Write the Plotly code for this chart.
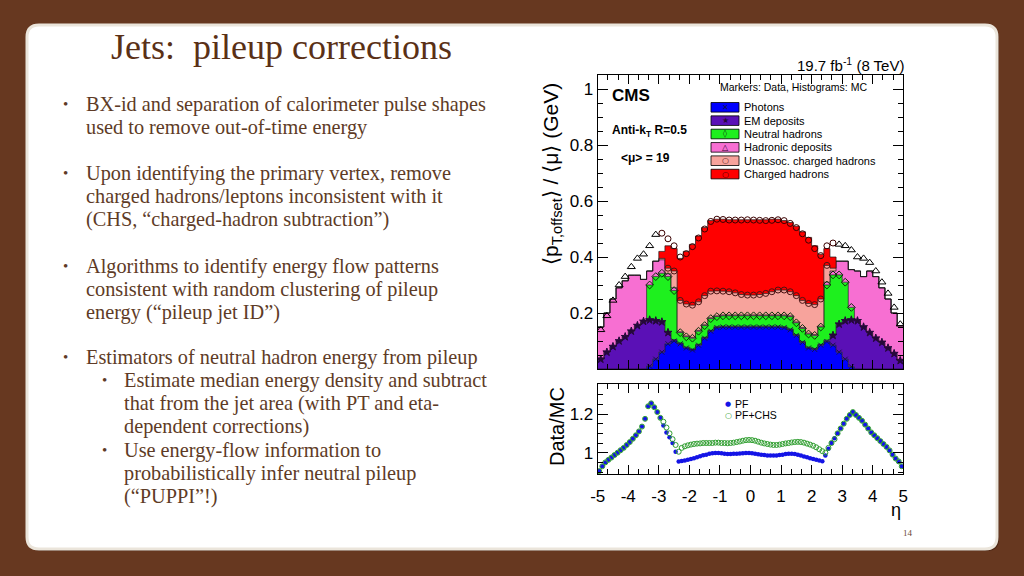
import numpy as np
import plotly.graph_objects as go

W, H = 1024, 576

# ---------------- data ----------------
eta_edges = np.linspace(-5.0, 5.0, 51)
eta_centers = 0.5 * (eta_edges[:-1] + eta_edges[1:])

photons = [0, 0, 0, 0, 0, 0, 0, 0,
           0.01, 0.035, 0.06, 0.09, 0.10, 0.09, 0.075, 0.068, 0.085, 0.11, 0.135, 0.148,
           0.15, 0.15, 0.15, 0.15, 0.15, 0.15, 0.15, 0.15, 0.15, 0.15,
           0.148, 0.14, 0.12, 0.095, 0.075, 0.07, 0.085, 0.098, 0.085, 0.06, 0.035, 0.008,
           0, 0, 0, 0, 0, 0, 0, 0]
em_deposits = [0.035, 0.06, 0.08, 0.10, 0.115, 0.135, 0.155, 0.17,
               0.165, 0.137, 0.108, 0.04, 0.005,
               0.003, 0.003, 0.003, 0.003, 0.003, 0.003, 0.003, 0.003, 0.003, 0.003, 0.003, 0.003,
               0.003, 0.003, 0.003, 0.003, 0.003, 0.003, 0.003, 0.003, 0.003, 0.003, 0.003, 0.003,
               0.005, 0.035, 0.10, 0.137, 0.167, 0.172, 0.15, 0.13, 0.11, 0.095, 0.075, 0.055, 0.03]
neutral_hadrons = [0, 0, 0, 0, 0, 0, 0, 0,
                   0.125, 0.158, 0.174, 0.20, 0.175, 0.037, 0.037, 0.039, 0.047, 0.042, 0.042, 0.036,
                   0.037, 0.037, 0.037, 0.037, 0.037, 0.037, 0.037, 0.037, 0.037, 0.037,
                   0.039, 0.044, 0.042, 0.047, 0.047, 0.047, 0.062, 0.197, 0.216, 0.176, 0.138, 0.045,
                   0, 0, 0, 0, 0, 0, 0, 0]
hadronic_deposits = [0.115, 0.14, 0.17, 0.19, 0.20, 0.20, 0.18, 0.15, 0.05, 0.055, 0.048, 0.01, 0.01,
                     0.003, 0.003, 0.003, 0.003, 0.003, 0.003, 0.003, 0.003, 0.003, 0.003, 0.003, 0.003,
                     0.003, 0.003, 0.003, 0.003, 0.003, 0.003, 0.003, 0.003, 0.003, 0.003, 0.003, 0.003,
                     0.01, 0.014, 0.049, 0.075, 0.135, 0.178, 0.18, 0.22, 0.22, 0.195, 0.175, 0.145, 0.125]
unassoc_charged = [0, 0, 0, 0, 0, 0, 0, 0, 0, 0,
                   0.005, 0.02, 0.06, 0.112, 0.114, 0.115, 0.102, 0.104, 0.095, 0.089,
                   0.085, 0.083, 0.079, 0.073, 0.071, 0.071, 0.073, 0.077, 0.083, 0.089,
                   0.089, 0.086, 0.094, 0.097, 0.106, 0.107, 0.097, 0.06, 0.01,
                   0, 0, 0, 0, 0, 0, 0, 0, 0, 0, 0]
charged_hadrons = [0, 0, 0, 0, 0, 0, 0, 0, 0, 0,
                   0.025, 0.08, 0.08, 0.15, 0.188, 0.217, 0.235, 0.243, 0.252, 0.256,
                   0.257, 0.257, 0.261, 0.267, 0.269, 0.269, 0.267, 0.263, 0.259, 0.253,
                   0.248, 0.247, 0.248, 0.245, 0.236, 0.21, 0.16, 0.06, 0.04,
                   0, 0, 0, 0, 0, 0, 0, 0, 0, 0, 0]
data_total = [0.14, 0.19, 0.245, 0.30, 0.33, 0.365, 0.395, 0.41, 0.44, 0.48,
              0.485, 0.465, 0.44, 0.40, 0.412, 0.437, 0.468, 0.50, 0.527, 0.535,
              0.534, 0.532, 0.532, 0.532, 0.533, 0.532, 0.531, 0.53, 0.531, 0.533,
              0.53, 0.52, 0.505, 0.483, 0.46, 0.43, 0.405, 0.44, 0.45, 0.445,
              0.44, 0.425, 0.40, 0.395, 0.38, 0.35, 0.31, 0.27, 0.22, 0.16]

ratio_eta = np.linspace(-4.95, 4.95, 100)
ratio_pf = [0.905, 0.93, 0.95, 0.963, 0.975, 0.988, 1.0, 1.013, 1.025, 1.04,
            1.055, 1.072, 1.09, 1.11, 1.135, 1.175, 1.24, 1.255, 1.235, 1.21,
            1.18, 1.14, 1.105, 1.08, 1.05, 1.005, 0.955, 0.957, 0.96, 0.963,
            0.967, 0.972, 0.977, 0.982, 0.987, 0.99, 0.994, 0.997, 0.999, 0.999,
            0.997, 0.995, 0.993, 0.993, 0.994, 0.995, 0.996, 0.997, 0.998, 0.998,
            0.997, 0.995, 0.992, 0.99, 0.988, 0.986, 0.985, 0.985, 0.986, 0.988,
            0.99, 0.993, 0.995, 0.995, 0.993, 0.99, 0.985, 0.98, 0.976, 0.972,
            0.968, 0.964, 0.96, 0.956, 0.985, 1.02, 1.05, 1.075, 1.10, 1.125,
            1.15, 1.175, 1.195, 1.21, 1.195, 1.18, 1.165, 1.145, 1.125, 1.105,
            1.09, 1.075, 1.06, 1.045, 1.03, 1.012, 0.99, 0.97, 0.955, 0.93]
ratio_pfchs = [0.905, 0.93, 0.95, 0.963, 0.975, 0.988, 1.0, 1.013, 1.025, 1.04,
               1.055, 1.072, 1.09, 1.11, 1.135, 1.175, 1.24, 1.255, 1.235, 1.21,
               1.18, 1.16, 1.13, 1.10, 1.07, 1.04, 1.005, 1.025, 1.033, 1.038,
               1.042, 1.045, 1.047, 1.048, 1.05, 1.05, 1.05, 1.05, 1.052, 1.052,
               1.05, 1.05, 1.049, 1.05, 1.052, 1.055, 1.058, 1.062, 1.065, 1.066,
               1.065, 1.062, 1.057, 1.052, 1.048, 1.045, 1.042, 1.04, 1.04, 1.042,
               1.045, 1.048, 1.05, 1.053, 1.055, 1.056, 1.055, 1.052, 1.047, 1.042,
               1.036, 1.028, 1.018, 1.008, 1.0, 1.025, 1.05, 1.07, 1.10, 1.125,
               1.15, 1.175, 1.195, 1.21, 1.195, 1.18, 1.165, 1.145, 1.125, 1.105,
               1.09, 1.075, 1.06, 1.045, 1.03, 1.012, 0.99, 0.97, 0.955, 0.93]

eta_tick_labels = ["-5", "-4", "-3", "-2", "-1", "0", "1", "2", "3", "4", "5"]

layer_names = ["Photons", "EM deposits", "Neutral hadrons", "Hadronic deposits",
               "Unassoc. charged hadrons", "Charged hadrons"]
layer_colors = ["#0000ff", "#5a10b6", "#1ef01e", "#f76fd2", "#f7a39c", "#ff0000"]
layer_symbols = ["x-thin-open", "star", "diamond-open", "triangle-up-open", "circle-open", "circle-open"]
legend_glyphs = ["✕", "★", "◊", "△", "○", "○"]
marker_colors = ["#14144a", "#25083a", "#0c300c", "#300030", "#4a1414", "#3a0000"]

slide_title = "Jets:\u00a0 pileup corrections"
bullets = [
    (0, ["BX-id and separation of calorimeter pulse shapes",
         "used to remove out-of-time energy"], 104),
    (0, ["Upon identifying the primary vertex, remove",
         "charged hadrons/leptons inconsistent with it",
         "(CHS, “charged-hadron subtraction”)"], 173),
    (0, ["Algorithms to identify energy flow patterns",
         "consistent with random clustering of pileup",
         "energy (“pileup jet ID”)"], 266),
    (0, ["Estimators of neutral hadron energy from pileup"], 357),
    (1, ["Estimate median energy density and subtract",
         "that from the jet area (with PT and eta-",
         "dependent corrections)"], 380),
    (1, ["Use energy-flow information to",
         "probabilistically infer neutral pileup",
         "(“PUPPI”!)"], 450),
]

# ---------------- helpers ----------------
def px(x):
    return x / W


def py(y):
    return 1 - y / H


annotations = []
shapes = []


def add_text(text, x, y, size, color="black", xanchor="left", yanchor="middle",
             family="Liberation Sans", angle=0):
    annotations.append(dict(text=text, x=px(x), y=py(y), xref="paper", yref="paper",
                            showarrow=False, xanchor=xanchor, yanchor=yanchor,
                            textangle=angle, borderpad=0, borderwidth=0,
                            font=dict(size=size, color=color, family=family)))


def rounded_rect(x0, y0, x1, y1, r):
    rx, ry = r / W, r / H
    X0, X1, Yb, Yt = px(x0), px(x1), py(y1), py(y0)
    return (f"M {X0+rx},{Yb} L {X1-rx},{Yb} Q {X1},{Yb} {X1},{Yb+ry} "
            f"L {X1},{Yt-ry} Q {X1},{Yt} {X1-rx},{Yt} L {X0+rx},{Yt} "
            f"Q {X0},{Yt} {X0},{Yt-ry} L {X0},{Yb+ry} Q {X0},{Yb} {X0+rx},{Yb} Z")


# ---------------- figure ----------------
fig = go.Figure()

layers = np.vstack([photons, em_deposits, neutral_hadrons, hadronic_deposits,
                    unassoc_charged, charged_hadrons])
cum = np.cumsum(layers, axis=0)

for k in range(6):
    fig.add_trace(go.Scatter(
        x=eta_edges, y=np.append(cum[k], cum[k][-1]), mode="lines",
        line=dict(shape="hv", color="rgba(20,20,20,0.85)", width=0.8),
        fill="tozeroy" if k == 0 else "tonexty", fillcolor=layer_colors[k],
        xaxis="x", yaxis="y", showlegend=False, hoverinfo="skip"))

# markers at layer tops
thresholds = [0.005, 0.01, 0.01, None, 0.01, None]
for k in [0, 1, 2, 4]:
    yv = np.where(layers[k] > thresholds[k], cum[k], np.nan)
    fig.add_trace(go.Scatter(
        x=eta_centers, y=yv, mode="markers",
        marker=dict(symbol=layer_symbols[k], size=6 if k != 0 else 5,
                    color=marker_colors[k],
                    line=dict(color=marker_colors[k], width=1)),
        xaxis="x", yaxis="y", showlegend=False))

data_total = np.array(data_total)
ch = np.array(charged_hadrons)
fig.add_trace(go.Scatter(
    x=eta_centers, y=np.where(ch == 0, data_total, np.nan), mode="markers",
    marker=dict(symbol="triangle-up-open", size=7, color="black", line=dict(color="black", width=1)),
    xaxis="x", yaxis="y", showlegend=False))
fig.add_trace(go.Scatter(
    x=eta_centers, y=np.where(ch > 0, data_total, np.nan), mode="markers",
    marker=dict(symbol="circle-open", size=6, color="#3a0000", line=dict(color="#3a0000", width=1)),
    xaxis="x", yaxis="y", showlegend=False))

# ratio panel
fig.add_trace(go.Scatter(x=ratio_eta, y=ratio_pf, mode="markers",
                         marker=dict(symbol="circle", size=4.5, color="#1414e6"),
                         xaxis="x2", yaxis="y2", showlegend=False))
fig.add_trace(go.Scatter(x=ratio_eta, y=ratio_pfchs, mode="markers",
                         marker=dict(symbol="circle-open", size=5, color="#2f9e2f",
                                     line=dict(color="#2f9e2f", width=1)),
                         xaxis="x2", yaxis="y2", showlegend=False))

# ---------------- slide decoration ----------------
shapes.append(dict(type="path", xref="paper", yref="paper", layer="below",
                   path=rounded_rect(29, 27, 999, 551, 12),
                   fillcolor="rgba(30,10,0,0.35)", line=dict(width=0)))
shapes.append(dict(type="path", xref="paper", yref="paper", layer="below",
                   path=rounded_rect(27, 25, 997, 549, 12),
                   fillcolor="white", line=dict(color="#ebe5db", width=3)))

add_text(slide_title, 281, 47, 36, color="#5a3016", xanchor="center", family="Liberation Serif")

body_color = "#5e3b26"
line_h = 23.1
for level, lines, y0 in bullets:
    bx = 65 if level == 0 else 104
    tx = 86 if level == 0 else 124
    add_text("•", bx, y0, 15, color=body_color, xanchor="center", family="Liberation Serif")
    for j, ln in enumerate(lines):
        add_text(ln, tx, y0 + j * line_h, 20.3, color=body_color, family="Liberation Serif")

add_text("14", 908, 533, 9, color="#6b4a36", xanchor="center", family="Liberation Serif")

# ---------------- chart texts ----------------
add_text("19.7 fb<sup>-1</sup> (8 TeV)", 904, 64, 15, xanchor="right")
add_text("Markers: Data, Histograms: MC", 720, 87, 10.5)
add_text("<b>CMS</b>", 612, 95, 17)
add_text("<b>Anti-k<sub>T</sub> R=0.5</b>", 612, 131, 12)
add_text("<b>&lt;μ&gt; = 19</b>", 621, 158, 12)
add_text("⟨p<sub>T,offset</sub>⟩ / ⟨μ⟩ (GeV)", 552, 174, 21, xanchor="center", angle=-90)
add_text("Data/MC", 557, 427, 20, xanchor="center", angle=-90)
add_text("η", 896, 510, 18, xanchor="center")

# legend of main panel
for i, name in enumerate(layer_names):
    yc = 107.3 + 13.35 * i
    shapes.append(dict(type="rect", xref="paper", yref="paper",
                       x0=px(711), x1=px(739), y0=py(yc + 4.8), y1=py(yc - 4.8),
                       fillcolor=layer_colors[i], line=dict(color="black", width=0.8)))
    add_text(legend_glyphs[i], 725, yc, 8, color=marker_colors[i], xanchor="center",
             family="DejaVu Sans")
    add_text(name, 744, yc, 11)

# legend of ratio panel
add_text("●", 728, 403.5, 7, color="#1414e6", xanchor="center", family="DejaVu Sans")
add_text("PF", 735, 403.5, 10.5)
add_text("○", 728, 415, 8, color="#2f9e2f", xanchor="center", family="DejaVu Sans")
add_text("PF+CHS", 735, 415, 10.5)

# ---------------- axes ----------------
xdom = [px(597.7), px(903.3)]
axis_common = dict(showline=True, linecolor="black", linewidth=1, mirror="ticks",
                   ticks="inside", tickcolor="black", tickwidth=1,
                   showgrid=False, zeroline=False, automargin=False,
                   tickfont=dict(family="Liberation Sans", size=17, color="black"))

fig.update_layout(
    width=W, height=H, autosize=False,
    margin=dict(l=0, r=0, t=0, b=0, pad=0, autoexpand=False),
    paper_bgcolor="#673820", plot_bgcolor="white",
    showlegend=False,
    shapes=shapes, annotations=annotations,
    xaxis=dict(domain=xdom, range=[-5, 5], anchor="y", showticklabels=False,
               tick0=0, dtick=1, ticklen=9,
               minor=dict(ticks="inside", dtick=1 / 3, tick0=0, ticklen=5,
                          tickcolor="black", showgrid=False),
               **axis_common),
    yaxis=dict(domain=[py(369), py(75)], range=[0, 1.05], anchor="x",
               tickvals=[0.2, 0.4, 0.6, 0.8, 1.0],
               ticktext=["0.2", "0.4", "0.6", "0.8", "1"], ticklen=10,
               minor=dict(ticks="inside", dtick=0.05, tick0=0, ticklen=5,
                          tickcolor="black", showgrid=False),
               **axis_common),
    xaxis2=dict(domain=xdom, range=[-5, 5], anchor="y2",
                tickvals=list(range(-5, 6)), ticktext=eta_tick_labels, ticklen=9,
                ticklabelstandoff=7,
                minor=dict(ticks="inside", dtick=1 / 3, tick0=0, ticklen=5,
                           tickcolor="black", showgrid=False),
                **axis_common),
    yaxis2=dict(domain=[py(474), py(384)], range=[0.89, 1.355], anchor="x2",
                tickvals=[1.0, 1.2], ticktext=["1", "1.2"], ticklen=10,
                minor=dict(ticks="inside", dtick=0.05, tick0=0, ticklen=5,
                           tickcolor="black", showgrid=False),
                **axis_common),
)

fig.write_html("out.html", config={"displayModeBar": False},
               post_script="document.body.style.margin='0';"
                           "document.body.style.background='#673820';")
